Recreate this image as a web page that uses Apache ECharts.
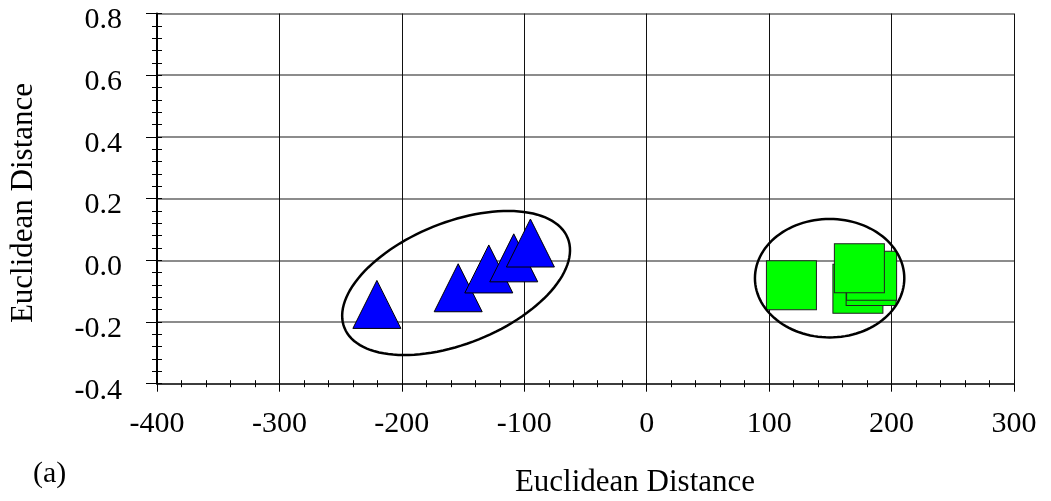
<!DOCTYPE html>
<html>
<head>
<meta charset="utf-8">
<script src="https://cdn.jsdelivr.net/npm/echarts@6/dist/echarts.min.js"></script>
<style>
html,body{margin:0;padding:0;background:#fff;}
#chart{width:1051px;height:501px;}
</style>
</head>
<body>
<div id="chart"></div>
<script>
// ---- data ----
const xTicks = [-400, -300, -200, -100, 0, 100, 200, 300];
const yTicks = [-0.4, -0.2, 0.0, 0.2, 0.4, 0.6, 0.8];
const classA = [[-220.4, -0.143], [-154, -0.089], [-129, -0.028], [-108.6, 0.008], [-95, 0.056]];
const classB = [[118.2, -0.081], [172.5, -0.092], [183.3, -0.067], [183.7, -0.050], [173.7, -0.026]];
// ellipse annotations: [centerX, centerY, u_x, u_y, v_x, v_y] (conjugate semi-axes, data units)
const ellipses = [[-155.7, -0.0736, 91.2, 0.1455, 18.5, -0.1826], [149.4, -0.058, 61, 0, 0, 0.192]];
const axisTitle = 'Euclidean Distance';
const panelLabel = '(a)';

const FONT = '"Liberation Serif", "Times New Roman", serif';
const chart = echarts.init(document.getElementById('chart'));

const xBase = {type: 'value', min: xTicks[0], max: xTicks[xTicks.length - 1], interval: 100, position: 'bottom'};
const yBase = {type: 'value', min: yTicks[0], max: yTicks[yTicks.length - 1], interval: 0.2, position: 'left'};

chart.setOption({
  animation: false,
  backgroundColor: '#fff',
  grid: {left: 157, right: 37, top: 13.5, bottom: 117.3, containLabel: false},
  xAxis: [
    Object.assign({}, xBase, {
      axisLine: {show: true, onZero: false, lineStyle: {color: '#222', width: 1.5}},
      axisTick: {show: true, inside: false, length: 8, lineStyle: {color: '#000', width: 1}},
      minorTick: {show: true, splitNumber: 5, length: 3.5, lineStyle: {color: '#000', width: 1}},
      axisLabel: {show: true, margin: 25, fontSize: 30, fontFamily: FONT, color: '#000',
        formatter: v => String(v)},
      splitLine: {show: true, lineStyle: {color: '#111', width: 1}}
    }),
    Object.assign({}, xBase, {
      axisLine: {show: false, onZero: false},
      axisTick: {show: true, inside: true, length: 4, lineStyle: {color: '#000', width: 1}},
      minorTick: {show: true, splitNumber: 5, length: 3.5, lineStyle: {color: '#000', width: 1}},
      axisLabel: {show: false},
      splitLine: {show: false}
    })
  ],
  yAxis: [
    Object.assign({}, yBase, {
      axisLine: {show: true, onZero: false, lineStyle: {color: '#000', width: 2}},
      axisTick: {show: true, inside: false, length: 11, lineStyle: {color: '#000', width: 1}},
      minorTick: {show: true, splitNumber: 5, length: 5, lineStyle: {color: '#000', width: 1}},
      axisLabel: {show: true, margin: 35, fontSize: 30, fontFamily: FONT, color: '#000',
        verticalAlign: 'top', lineHeight: 14, formatter: v => v.toFixed(1)},
      splitLine: {show: true, lineStyle: {color: '#666', width: 1.5}}
    }),
    Object.assign({}, yBase, {
      axisLine: {show: false, onZero: false},
      axisTick: {show: true, inside: true, length: 5, lineStyle: {color: '#000', width: 1}},
      minorTick: {show: true, splitNumber: 5, length: 5, lineStyle: {color: '#000', width: 1}},
      axisLabel: {show: false},
      splitLine: {show: false}
    })
  ],
  graphic: [
    {type: 'text', x: 635, y: 483, style: {text: axisTitle, font: '31px ' + FONT, fill: '#000', align: 'center', verticalAlign: 'middle'}},
    {type: 'text', x: 24, y: 203, rotation: Math.PI / 2, style: {text: axisTitle, font: '31px ' + FONT, fill: '#000', align: 'center', verticalAlign: 'middle'}},
    {type: 'text', x: 33, y: 474, style: {text: panelLabel, font: '30px ' + FONT, fill: '#000', align: 'left', verticalAlign: 'middle'}}
  ],
  series: [
    {
      type: 'scatter', xAxisIndex: 0, yAxisIndex: 0, data: classA, symbol: 'triangle', symbolSize: [48, 48],
      itemStyle: {color: '#0000ff', borderColor: '#000', borderWidth: 1, opacity: 1}, z: 3
    },
    {
      type: 'scatter', xAxisIndex: 0, yAxisIndex: 0, data: classB, symbol: 'rect', symbolSize: [50, 49],
      itemStyle: {color: '#00ff00', borderColor: '#222', borderWidth: 1, opacity: 1}, z: 3
    },
    {
      type: 'custom', xAxisIndex: 0, yAxisIndex: 0, z: 5, data: ellipses,
      renderItem: function (params, api) {
        const cx = api.value(0), cy = api.value(1), ux = api.value(2), uy = api.value(3), vx = api.value(4), vy = api.value(5);
        const pts = [];
        const N = 120;
        for (let i = 0; i < N; i++) {
          const t = 2 * Math.PI * i / N;
          pts.push(api.coord([cx + ux * Math.cos(t) + vx * Math.sin(t), cy + uy * Math.cos(t) + vy * Math.sin(t)]));
        }
        return {type: 'polygon', shape: {points: pts}, style: {fill: 'none', stroke: '#000', lineWidth: 2.5}};
      }
    }
  ]
});
</script>
</body>
</html>
